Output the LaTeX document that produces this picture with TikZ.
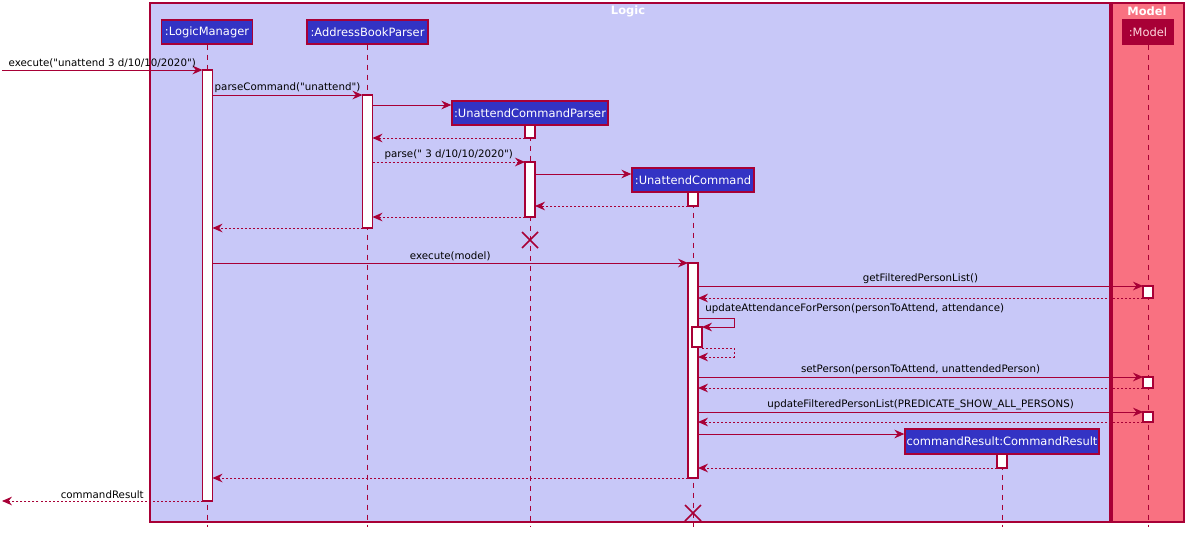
\documentclass[tikz,border=0pt]{standalone}
\usepackage{fontspec}
\setmainfont{DejaVu Sans}
\newfontfamily\dvs{DejaVu Sans}
\usetikzlibrary{arrows.meta}
\definecolor{crim}{HTML}{A80036}
\definecolor{logicbg}{HTML}{C8C8F8}
\definecolor{modelbg}{HTML}{F97181}
\definecolor{partbg}{HTML}{3333C4}
\definecolor{modeltxt}{HTML}{FFD8DE}
\tikzset{
  pkg/.style={draw=crim, line width=0.9pt},
  part/.style={draw=crim, fill=partbg, text=white, line width=1pt, inner sep=0pt,
    font=\dvs\fontsize{8.6}{10}\selectfont},
  act/.style={draw=crim, fill=white, line width=0.85pt, inner sep=0pt, outer sep=0pt, minimum width=7.5pt},
  life/.style={draw=crim, line width=0.6pt, dash pattern=on 3.75pt off 3.75pt},
  msg/.style={draw=crim, line width=0.75pt, -{Stealth[length=7.5pt,width=6.5pt,inset=2.5pt]}},
  ret/.style={msg, dash pattern=on 1.5pt off 1.5pt},
  lbl/.style={font=\dvs\fontsize{7.7}{9}\selectfont, text=black, inner sep=1.5pt},
  ttl/.style={font=\dvs\bfseries\fontsize{8.6}{10}\selectfont, text=white},
  xmark/.style={draw=crim, line width=1.1pt},
}
\newcommand\actbox[4]{\node[act, minimum height={(#4-#3)*0.75pt}] (#1) at (#2,{(#3+#4)/2}) {};}
\begin{document}
\begin{tikzpicture}[x=0.75pt, y=-0.75pt]
\useasboundingbox (0,0) rectangle (1192,536);
% packages
\draw[pkg, fill=logicbg] (150,3) rectangle (1110,522);
\draw[pkg, fill=modelbg] (1112,3) rectangle (1184,522);
\node[ttl] (tLogic) at (628,11.5) {Logic};
\node[ttl] (tModel) at (1147,11.5) {Model};
% participants
\node[part, minimum width=91*0.75pt, minimum height=24*0.75pt] (pLM) at (207,32) {:LogicManager};
\node[part, minimum width=121*0.75pt, minimum height=24*0.75pt] (pABP) at (367.5,32) {:AddressBookParser};
\node[part, minimum width=156*0.75pt, minimum height=24*0.75pt] (pUCP) at (530,113) {:UnattendCommandParser};
\node[part, minimum width=122*0.75pt, minimum height=24*0.75pt] (pUC) at (693,180) {:UnattendCommand};
\node[part, fill=crim, text=modeltxt, minimum width=51*0.75pt, minimum height=24*0.75pt] (pM) at (1148,32) {:Model};
\node[part, minimum width=194*0.75pt, minimum height=25*0.75pt] (pCR) at (1002,441.5) {commandResult:CommandResult};
% lifelines
\draw[life] (pLM.south) -- (pLM.south |- 0,527);
\draw[life] (pABP.south) -- (pABP.south |- 0,527);
\draw[life] (pUCP.south) -- (pUCP.south |- 0,527);
\draw[life] (pUC.south) -- (pUC.south |- 0,527);
\draw[life] (pM.south) -- (pM.south |- 0,527);
\draw[life] (pCR.south) -- (pCR.south |- 0,527);
% activations
\actbox{aLM}{207.5}{70}{501}
\actbox{aABP}{367.5}{95}{228}
\actbox{aUCP1}{530}{125}{138}
\actbox{aUCP2}{530}{162}{217}
\actbox{aUC1}{693}{192}{206}
\actbox{aUC2}{693}{263}{478}
\actbox{aUC3}{697}{327}{347}
\actbox{aM1}{1148}{286}{298}
\actbox{aM2}{1148}{377}{388}
\actbox{aM3}{1148}{412}{422}
\actbox{aCR}{1002}{454}{468}
% external endpoints
\coordinate (extIn) at (2,70);
\coordinate (extOut) at (2,501);
% messages
\draw[msg] (extIn) -- (aLM.west |- extIn) node[lbl, midway, above] {execute("unattend 3 d/10/10/2020")};
\draw[msg] (aLM.east |- 0,95) -- (aABP.west |- 0,95) node[lbl, midway, above] {parseCommand("unattend")};
\draw[msg] (aABP.east |- 0,105) -- (pUCP.west |- 0,105);
\draw[ret] (aUCP1.west |- 0,138) -- (aABP.east |- 0,138);
\draw[ret] (aABP.east |- 0,162) -- (aUCP2.west |- 0,162) node[lbl, midway, above] {parse(" 3 d/10/10/2020")};
\draw[msg] (aUCP2.east |- 0,174) -- (pUC.west |- 0,174);
\draw[ret] (aUC1.west |- 0,206) -- (aUCP2.east |- 0,206);
\draw[ret] (aUCP2.west |- 0,217) -- (aABP.east |- 0,217);
\draw[ret] (aABP.west |- 0,228) -- (aLM.east |- 0,228);
% destroy UCP
\coordinate (xUCP) at (530,240);
\draw[xmark] ([shift={(-8,-8)}]xUCP) -- ([shift={(8,8)}]xUCP);
\draw[xmark] ([shift={(-8,8)}]xUCP) -- ([shift={(8,-8)}]xUCP);
\draw[msg] (aLM.east |- 0,263) -- (aUC2.west |- 0,263) node[lbl, midway, above] {execute(model)};
\draw[msg] (aUC2.east |- 0,286) -- (aM1.west |- 0,286) node[lbl, midway, above] {getFilteredPersonList()};
\draw[ret] (aM1.west |- 0,298) -- (aUC2.east |- 0,298);
\draw[msg] (aUC2.east |- 0,318) -- (734,318) -- (734,327) -- (aUC3.east |- 0,327);
\node[lbl, anchor=south west] (lblUpd) at (703,316) {updateAttendanceForPerson(personToAttend, attendance)};
\draw[ret] (aUC3.east |- 0,348) -- (734,348) -- (734,357) -- (aUC2.east |- 0,357);
\draw[msg] (aUC2.east |- 0,377) -- (aM2.west |- 0,377) node[lbl, midway, above] {setPerson(personToAttend, unattendedPerson)};
\draw[ret] (aM2.west |- 0,388) -- (aUC2.east |- 0,388);
\draw[msg] (aUC2.east |- 0,412) -- (aM3.west |- 0,412) node[lbl, midway, above] {updateFilteredPersonList(PREDICATE\_SHOW\_ALL\_PERSONS)};
\draw[ret] (aM3.west |- 0,422) -- (aUC2.east |- 0,422);
\draw[msg] (aUC2.east |- 0,434) -- (pCR.west |- 0,434);
\draw[ret] (aCR.west |- 0,468) -- (aUC2.east |- 0,468);
\draw[ret] (aUC2.west |- 0,478) -- (aLM.east |- 0,478);
\draw[ret] (aLM.west |- extOut) -- (extOut) node[lbl, midway, above] {commandResult};
% destroy UC
\coordinate (xUC) at (693,513);
\draw[xmark] ([shift={(-8,-8)}]xUC) -- ([shift={(8,8)}]xUC);
\draw[xmark] ([shift={(-8,8)}]xUC) -- ([shift={(8,-8)}]xUC);
\end{tikzpicture}
\end{document}
